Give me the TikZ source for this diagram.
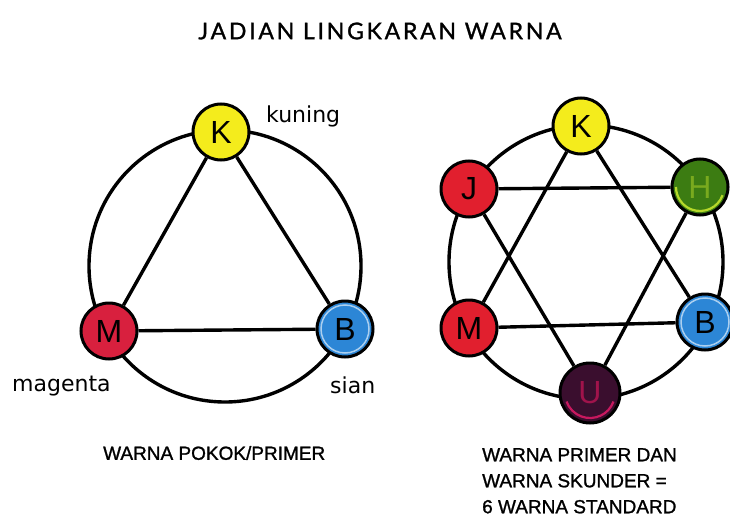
\documentclass[tikz,border=0pt]{standalone}
\usepackage{fontspec}
\setmainfont{Liberation Sans}
\newfontfamily\titlefont[LetterSpace=12,FakeBold=1.2]{Lato}
\newfontfamily\labfont{DejaVu Sans}
\newfontfamily\capfont[FakeBold=1.2]{Liberation Sans}
\newfontfamily\letfont{Liberation Sans}
\definecolor{cyel}{HTML}{F4EC1C}
\definecolor{cred}{HTML}{E11F2E}
\definecolor{cmag}{HTML}{D8203E}
\definecolor{cblue}{HTML}{2C86D6}
\definecolor{cgreen}{HTML}{3C7C12}
\definecolor{cgrim}{HTML}{B6D82A}
\definecolor{cdark}{HTML}{3A0E2E}
\definecolor{cdrim}{HTML}{C8185E}
\tikzset{
  ring/.style={line width=3.4pt, draw=black},
  edge/.style={line width=3.4pt, draw=black},
  colnode/.style={circle, draw=black, line width=3pt, minimum size=56pt,
     inner sep=0pt, font=\letfont\fontsize{32}{32}\selectfont},
  lab/.style={font=\labfont\fontsize{22}{24}\selectfont, inner sep=0pt},
  captext/.style={font=\capfont\fontsize{19}{26}\selectfont, inner sep=0pt, align=left},
}
\begin{document}
\begin{tikzpicture}[x=1pt,y=-1pt]
\useasboundingbox (0,0) rectangle (730,524);
\fill[white] (0,0) rectangle (730,524);
% title
\node[font=\titlefont\fontsize{23}{24}\selectfont, inner sep=0pt] (title) at (380,31) {JADIAN LINGKARAN WARNA};

% ---- left wheel
\coordinate (LC) at (225,266);
\draw[ring] (LC) circle (136);
\node[colnode, fill=cyel] (lK) at (221,132) {K};
\node[colnode, fill=cmag] (lM) at (109,331) {M};
\node[colnode, fill=cblue] (lB) at (345,329) {B};
\draw[white!60!cblue, line width=1.5pt] (lB) circle (24);
\draw[edge] (lK) -- (lM);
\draw[edge] (lK) -- (lB);
\draw[edge] (lM) -- (lB);
\node[lab, anchor=west] (kuning) at (266,116) {kuning};
\node[lab, anchor=west] (magenta) at (12,386) {magenta};
\node[lab, anchor=west] (sian) at (330,385) {sian};
\node[captext, anchor=west] (cap1) at (103,453) {WARNA POKOK/PRIMER};

% ---- right wheel
\coordinate (RC) at (586,262);
\draw[ring] (RC) circle (137);
\node[colnode, fill=cyel] (rK) at (581,126) {K};
\node[colnode, fill=cred] (rJ) at (469,189) {J};
\node[colnode, fill=cgreen, text=cgrim!50!cgreen] (rH) at (700,187) {H};
\draw[cgrim, line width=2.2pt] ([shift={(20:24)}]rH.center) arc[start angle=20, end angle=180, radius=24];
\node[colnode, fill=cred] (rM) at (469,328) {M};
\node[colnode, fill=cblue] (rB) at (705,322) {B};
\draw[white!60!cblue, line width=1.5pt] (rB) circle (24);
\node[colnode, fill=cdark, text=cdrim!80!black, minimum size=60pt] (rU) at (590,393) {U};
\draw[cdrim, line width=2.2pt] ([shift={(20:25)}]rU.center) arc[start angle=20, end angle=160, radius=25];
\draw[edge] (rK) -- (rM);
\draw[edge] (rK) -- (rB);
\draw[edge] (rJ) -- (rH);
\draw[edge] (rM) -- (rB);
\draw[edge] (rJ) -- (rU);
\draw[edge] (rH) -- (rU);
\node[captext, anchor=north west] (cap2) at (482,448) {WARNA PRIMER DAN\\WARNA SKUNDER =\\6 WARNA STANDARD};
\end{tikzpicture}
\end{document}
